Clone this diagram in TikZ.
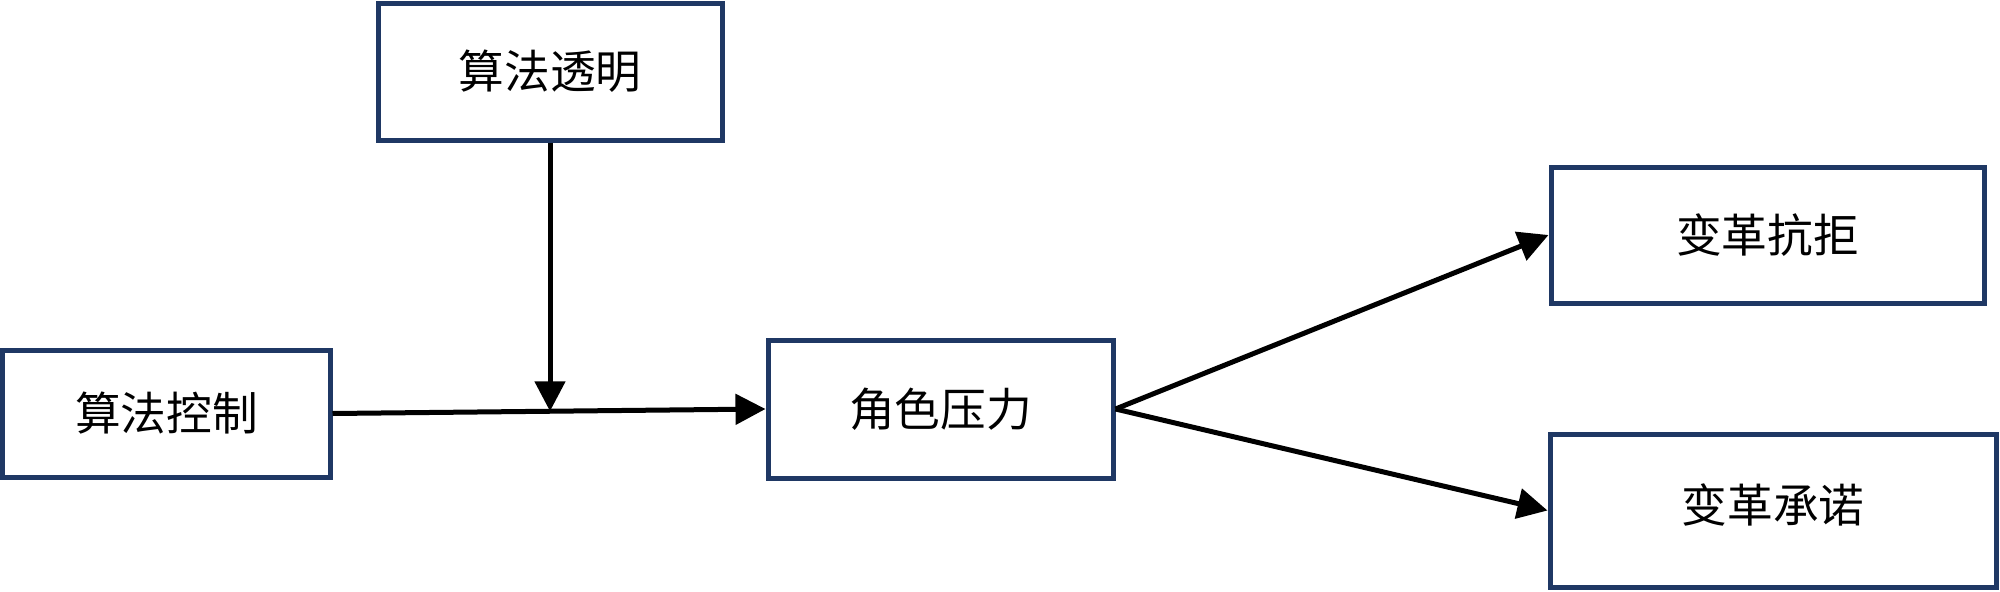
\documentclass[tikz,border=0pt]{standalone}
\usepackage{fontspec}
\usepackage{tikz}
\usetikzlibrary{arrows.meta}
\setmainfont{Noto Sans CJK SC}
\definecolor{boxBlue}{HTML}{1F3864}
\tikzstyle{factorBox}=[shape = rectangle, draw = boxBlue, line width = 0.1cm, fill = white, inner sep = 0pt, font = \fontsize{26}{30}\selectfont]
\tikzstyle{pathArrow}=[draw = black, line width = 0.1cm, -{Triangle[length = 0.6cm, width = 0.6cm]}]

\begin{document}
\begin{tikzpicture}[scale = 2]
\useasboundingbox (0, 0) rectangle (20, 5.91);
\node[factorBox, minimum width = 6.88cm, minimum height = 2.74cm] (transparent) at (5.50, 5.195) {算法透明};
\node[factorBox, minimum width = 6.54cm, minimum height = 2.54cm] (control) at (1.665, 1.775) {算法控制};
\node[factorBox, minimum width = 6.90cm, minimum height = 2.76cm] (pressure) at (9.405, 1.82) {角色压力};
\node[factorBox, minimum width = 8.66cm, minimum height = 2.72cm] (resistance) at (17.675, 3.56) {变革抗拒};
\node[factorBox, minimum width = 8.92cm, minimum height = 3.06cm, text depth = 0.3cm] (commitment) at (17.73, 0.805) {变革承诺};
\path (control.east) -- (pressure.west) coordinate[pos = 0.5] (moderate);
\draw[pathArrow] (control.east) -- (pressure.west);
\draw[pathArrow] (transparent.south) -- (transparent.south |- moderate);
\draw[pathArrow] (pressure.east) -- (resistance.west);
\draw[pathArrow] (pressure.east) -- (commitment.west);
\end{tikzpicture}
\end{document}
